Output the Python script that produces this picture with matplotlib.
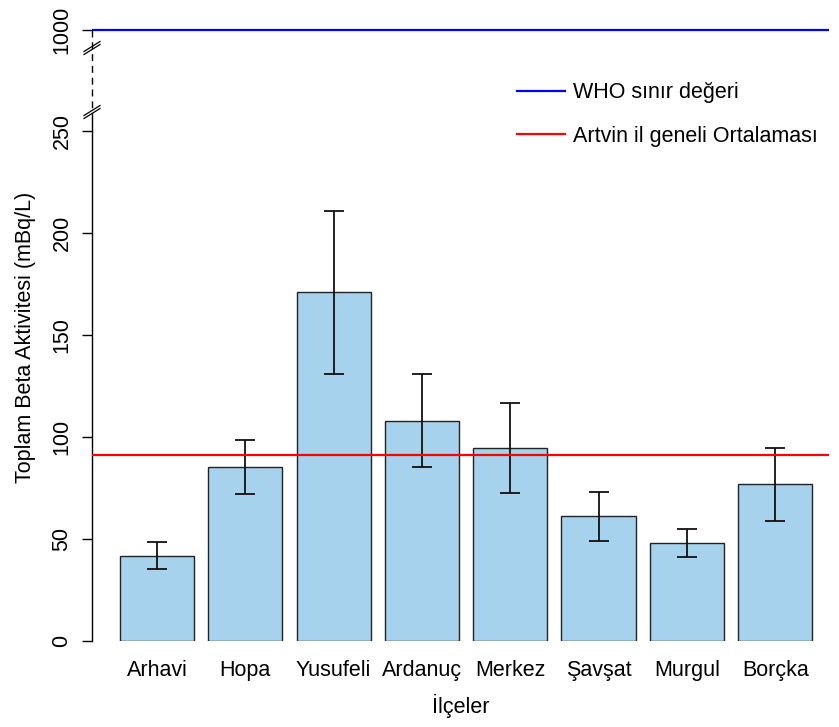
import matplotlib.pyplot as plt
from matplotlib.lines import Line2D

plt.rcParams['font.family'] = ['Liberation Sans', 'DejaVu Sans']

districts = ["Arhavi", "Hopa", "Yusufeli", "Ardanuç", "Merkez", "Şavşat", "Murgul", "Borçka"]
means = [41.7, 85.3, 171.0, 108.0, 94.6, 61.3, 48.0, 76.8]
err_hi = [48.5, 98.5, 211.0, 130.9, 116.7, 73.2, 54.9, 94.5]
err_lo = [35.3, 72.0, 131.0, 85.3, 72.5, 49.2, 41.0, 58.8]
who_limit = 1000
artvin_mean = 91.2
yticks_low = [0, 50, 100, 150, 200, 250]

FS = 15.5
W, H = 839, 727
fig = plt.figure(figsize=(W / 100, H / 100), dpi=100)

# pixel layout helpers
def fx(px):
    return px / W

def fy(py):
    return 1 - py / H

x0, x1 = 92, 829
# lower panel: 0 at 641 px, 2.04 px per unit
ylo_top = 255
ax = fig.add_axes([fx(x0), fy(641), fx(x1) - fx(x0), (ylo_top * 2.04) / H])
# upper panel: 1000 at 30 px
axt = fig.add_axes([fx(x0), fy(45), fx(x1) - fx(x0), 30 / H])

xs = list(range(len(districts)))
yerr = [[m - lo for m, lo in zip(means, err_lo)], [hi - m for m, hi in zip(means, err_hi)]]
ax.bar(xs, means, width=0.84, color='#A6D2EE', edgecolor='#222222', linewidth=1.0, zorder=2)
ax.errorbar(xs, means, yerr=yerr, fmt='none', ecolor='#111111', elinewidth=1.3,
            capsize=7.5, capthick=1.3, zorder=3)
red = ax.axhline(artvin_mean, color='#FF0000', linewidth=1.6, zorder=4)

ax.set_xlim(-0.736, 7.61)
ax.set_ylim(0, ylo_top)
ax.set_xticks(xs)
ax.set_xticklabels(districts, fontsize=FS)
ax.tick_params(axis='x', length=0, pad=14)
ax.set_yticks(yticks_low)
ax.set_yticklabels([str(v) for v in yticks_low], rotation=90, va='center', fontsize=FS)
ax.tick_params(axis='y', length=7, width=1, pad=7, direction='out')
for s in ['top', 'right', 'bottom']:
    ax.spines[s].set_visible(False)
ax.spines['left'].set_bounds(0, 250)
ax.spines['left'].set_linewidth(1.0)
ax.set_xlabel("İlçeler", fontsize=FS, labelpad=9)
ax.set_ylabel("Toplam Beta Aktivitesi (mBq/L)", fontsize=FS)
ax.yaxis.set_label_coords((fx(36) - fx(x0)) / (fx(x1) - fx(x0)), (641 - 337) / (ylo_top * 2.04),
                          transform=ax.transAxes)

blue = axt.axhline(who_limit, color='#0000FF', linewidth=1.6)
axt.set_xlim(-0.736, 7.61)
axt.set_ylim(985, 1015)
axt.set_xticks([])
axt.set_yticks([who_limit])
axt.set_yticklabels([str(who_limit)], rotation=90, va='center', fontsize=FS)
axt.tick_params(axis='y', length=7, width=1, pad=7)
for s in ['top', 'right', 'bottom', 'left']:
    axt.spines[s].set_visible(False)

# broken axis: dashed link and break marks
fig.add_artist(Line2D([fx(x0), fx(x0)], [fy(30), fy(118)], color='black',
                      linewidth=1.0, linestyle=(0, (5, 3.5))))
fig.add_artist(Line2D([fx(x0), fx(x0)], [fy(118), fy(131)], color='black', linewidth=1.0))
for yb in (48, 112):
    for dy in (-1.5, 1.5):
        fig.add_artist(Line2D([fx(x0 - 8), fx(x0 + 8)], [fy(yb + dy + 5), fy(yb + dy - 5)],
                              color='black', linewidth=0.9))

fig.legend([blue, red], ["WHO sınır değeri", "Artvin il geneli Ortalaması"],
           loc='upper left', bbox_to_anchor=(fx(498), fy(63)), frameon=False,
           fontsize=FS, handlelength=2.2, labelspacing=1.05, handletextpad=0.4)

fig.savefig("out.png", dpi=100)
